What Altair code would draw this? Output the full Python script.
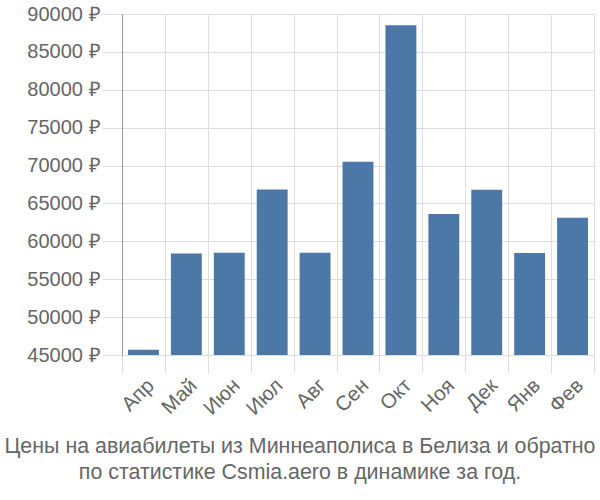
import altair as alt
import pandas as pd

months = ["Апр", "Май", "Июн", "Июл", "Авг", "Сен", "Окт", "Ноя", "Дек", "Янв", "Фев"]
prices = [45700, 58400, 58500, 66850, 58500, 70500, 88500, 63600, 66800, 58450, 63100]

df = pd.DataFrame({"month": months, "price": prices})

chart = alt.Chart(df).mark_bar(
    color="#4c78a8", width=alt.RelativeBandSize(0.72), clip=True
).encode(
    x=alt.X("month:N", sort=months, title=None,
            scale=alt.Scale(paddingInner=0, paddingOuter=0),
            axis=alt.Axis(labelAngle=-45, labelFontSize=20.5, labelColor="#666666",
                          labelFont="Liberation Sans", grid=True, gridColor="#dddddd",
                          tickColor="#dddddd", tickSize=18, tickBand="extent",
                          domainColor="#dddddd", labelAlign="right", labelBaseline="top",
                          labelPadding=2)),
    y=alt.Y("price:Q", title=None,
            scale=alt.Scale(domain=[45000, 90000], zero=False, nice=False),
            axis=alt.Axis(values=list(range(45000, 90001, 5000)),
                          labelExpr="datum.value + ' ₽'", labelFontSize=20,
                          labelColor="#666666", labelFont="Liberation Sans",
                          gridColor="#dddddd", tickColor="#dddddd", tickSize=20,
                          domainColor="#999999", labelPadding=2)),
).properties(
    width=472, height=341,
    autosize=alt.AutoSizeParams(type="none"),
    padding={"left": 122, "top": 14, "right": 6, "bottom": 145},
    title=alt.TitleParams(
        ["Цены на авиабилеты из Миннеаполиса в Белиза и обратно",
         "по статистике Csmia.aero в динамике за год."],
        orient="bottom", anchor="middle", fontSize=21.4, fontWeight="normal",
        color="#666666", font="Liberation Sans", offset=17, lineHeight=26, dx=-58),
).configure_view(stroke=None)

chart.save("out.html", embed_options={"renderer": "svg", "actions": False})
